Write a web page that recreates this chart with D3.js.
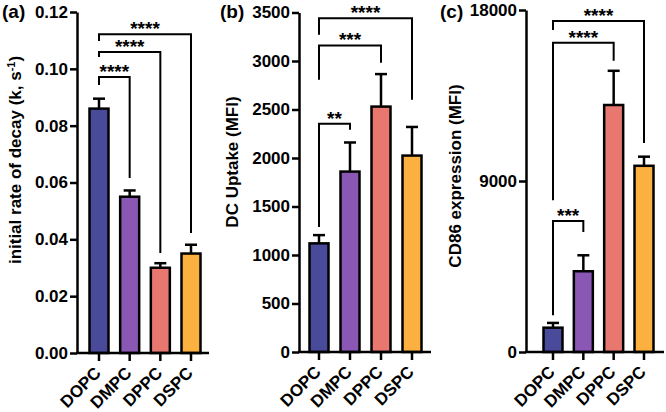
<!DOCTYPE html>
<html><head><meta charset="utf-8">
<script src="https://cdn.jsdelivr.net/npm/d3@7/dist/d3.min.js"></script>
<style>
body{margin:0;background:#fff;}
svg text{font-family:"Liberation Sans",Arial,sans-serif;font-weight:bold;fill:#000;}
</style></head><body>
<svg id="chart" width="666" height="412"></svg>
<script>
const categories = ["DOPC","DMPC","DPPC","DSPC"];
const colors = ["#4a4a9b","#8b57b5","#e8776f","#fbb040"];

// Panel (a): initial rate of decay
const decayMean = [0.086, 0.055, 0.030, 0.035];
const decayErr  = [0.0035, 0.0022, 0.0016, 0.0031];
const decayTicks = [0, 0.02, 0.04, 0.06, 0.08, 0.10, 0.12];
// brackets: [from, to, level, leftLegEnd, rightLegEnd, label]
const decayBrackets = [
  ["DOPC","DMPC",0.0971,0.0943,0.0616,"****"],
  ["DOPC","DPPC",0.1059,0.1042,0.0352,"****"],
  ["DOPC","DSPC",0.1122,0.1098,0.0422,"****"]
];

// Panel (b): DC uptake
const uptakeMean = [1120, 1860, 2530, 2025];
const uptakeErr  = [85, 300, 335, 295];
const uptakeTicks = [0,500,1000,1500,2000,2500,3000,3500];
const uptakeBrackets = [
  ["DOPC","DMPC",2352,1289,2290,"**"],
  ["DOPC","DPPC",3160,2806,2981,"***"],
  ["DOPC","DSPC",3440,3270,2600,"****"]
];

// Panel (c): CD86 expression
const cd86Mean = [1280, 4250, 13000, 9800];
const cd86Err  = [250, 840, 1800, 480];
const cd86Ticks = [0, 9000, 18000];
const cd86Brackets = [
  ["DOPC","DMPC",6901,1933,6321,"***"],
  ["DOPC","DPPC",16278,7991,15329,"****"],
  ["DOPC","DSPC",17420,16950,10994,"****"]
];

const panels = [
  {tag:"(a)", label:["initial rate of decay (k, s","-1",")"], mean:decayMean, err:decayErr, ticks:decayTicks, max:0.12, fmt:d3.format(".2f"), br:decayBrackets,
   ax:77, xEnd:209, x0:22, x1:114, yTop:12, yBot:353, labX:15, labY:160, tagX:2},
  {tag:"(b)", label:["DC Uptake (MFI)"], mean:uptakeMean, err:uptakeErr, ticks:uptakeTicks, max:3500, fmt:d3.format("d"), br:uptakeBrackets,
   ax:299, xEnd:431, x0:20, x1:113, yTop:12.5, yBot:352, labX:232, labY:162, tagX:220},
  {tag:"(c)", label:["CD86 expression (MFI)"], mean:cd86Mean, err:cd86Err, ticks:cd86Ticks, max:18000, fmt:d3.format("d"), br:cd86Brackets,
   ax:526, xEnd:664, x0:27, x1:118, yTop:10, yBot:352, labX:455, labY:176, tagX:440}
];

const svg = d3.select("#chart");
const barW = 19;

panels.forEach(p => {
  const g = svg.append("g");
  const x = d3.scalePoint().domain(categories).range([p.ax + p.x0, p.ax + p.x1]);
  const y = d3.scaleLinear().domain([0, p.max]).range([p.yBot, p.yTop]);

  // bars
  g.selectAll("rect.bar").data(categories).join("rect")
    .attr("x", d => x(d) - barW/2)
    .attr("y", (d,i) => y(p.mean[i]))
    .attr("width", barW)
    .attr("height", (d,i) => y(0) - y(p.mean[i]))
    .attr("fill", (d,i) => colors[i])
    .attr("stroke", "#000").attr("stroke-width", 2.5);

  // error bars (upper only)
  categories.forEach((c,i) => {
    const top = y(p.mean[i] + p.err[i]);
    g.append("line").attr("x1", x(c)).attr("x2", x(c))
      .attr("y1", y(p.mean[i])).attr("y2", top)
      .attr("stroke","#000").attr("stroke-width",2.5);
    g.append("line").attr("x1", x(c)-6).attr("x2", x(c)+6)
      .attr("y1", top).attr("y2", top)
      .attr("stroke","#000").attr("stroke-width",2.5);
  });

  // y axis
  const yAxis = d3.axisLeft(y).tickValues(p.ticks).tickFormat(p.fmt).tickSizeInner(7).tickSizeOuter(0).tickPadding(2);
  const ya = g.append("g").attr("transform", `translate(${p.ax},0)`).call(yAxis);
  ya.selectAll("path,line").attr("stroke","#000").attr("stroke-width",2.5);
  ya.selectAll("text").style("font-size","17px");

  // x axis
  const xa = g.append("g").attr("transform", `translate(0,${p.yBot})`);
  xa.append("line").attr("x1", p.ax - 1).attr("x2", p.xEnd).attr("y1",0).attr("y2",0)
    .attr("stroke","#000").attr("stroke-width",2.5);
  categories.forEach(c => {
    xa.append("line").attr("x1", x(c)).attr("x2", x(c)).attr("y1",0).attr("y2",8)
      .attr("stroke","#000").attr("stroke-width",2.5);
    xa.append("text").attr("transform", `translate(${x(c)+3},${21}) rotate(-45)`)
      .attr("text-anchor","end").style("font-size","17px").text(c);
  });

  // brackets
  p.br.forEach(b => {
    const xl = x(b[0]), xr = x(b[1]);
    const yl = y(b[2]);
    g.append("path")
      .attr("d", `M${xl},${y(b[3])}V${yl}H${xr}V${y(b[4])}`)
      .attr("fill","none").attr("stroke","#000").attr("stroke-width",2);
    g.append("text").attr("x", (xl+xr)/2).attr("y", yl + 1)
      .attr("text-anchor","middle").style("font-size","19px").text(b[5]);
  });

  // y label
  const t = g.append("text").attr("transform", `translate(${p.labX},${p.labY}) rotate(-90)`)
    .attr("text-anchor","middle").attr("dy","0.35em").style("font-size","17px");
  if (p.label.length === 3) {
    t.append("tspan").text(p.label[0]);
    t.append("tspan").attr("baseline-shift","super").style("font-size","11px").text(p.label[1]);
    t.append("tspan").text(p.label[2]);
  } else {
    t.text(p.label[0]);
  }

  // panel tag
  g.append("text").attr("x", p.tagX).attr("y", 18).style("font-size","19px").text(p.tag);
});
</script>
</body></html>
